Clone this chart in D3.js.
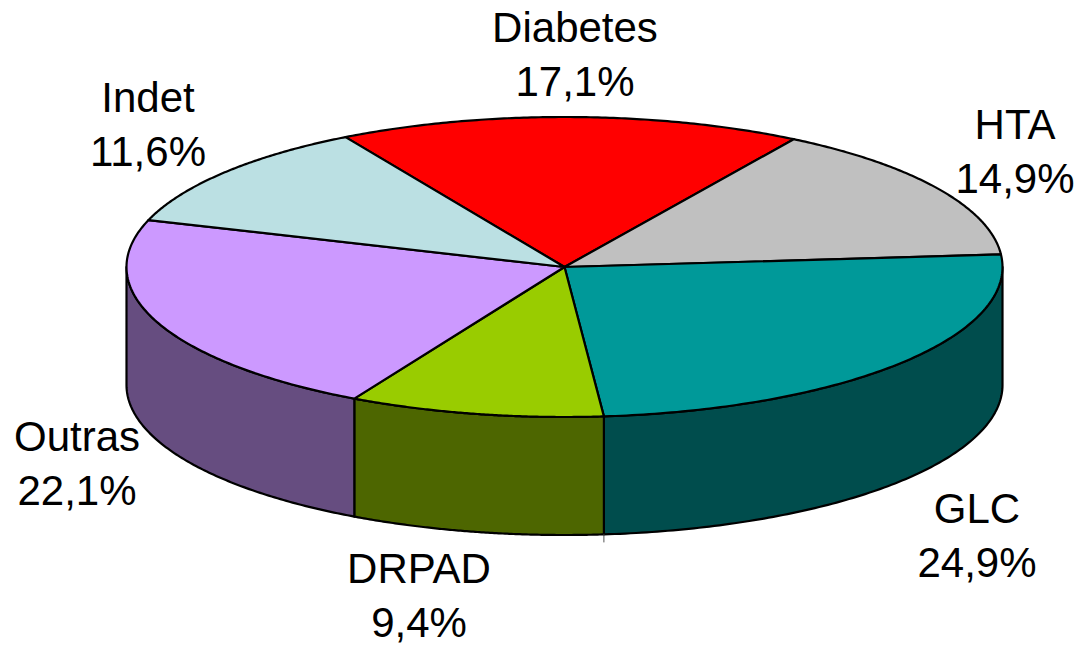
<!DOCTYPE html>
<html><head><meta charset="utf-8">
<script src="https://cdn.jsdelivr.net/npm/d3@7"></script>
<style>html,body{margin:0;padding:0;background:#fff}svg{display:block}text{font-family:"Liberation Sans",Arial,sans-serif;font-size:42px;fill:#000}</style>
</head><body><div id="c"></div>
<script>
const categories=["Diabetes","HTA","GLC","DRPAD","Outras","Indet"];
const values=[17.1,14.9,24.9,9.4,22.1,11.6];
const labels=["17,1%","14,9%","24,9%","9,4%","22,1%","11,6%"];
const topColors=["#FF0000","#C0C0C0","#009999","#99CC00","#CC99FF","#BBE0E3"];
const sideColors=["#800000","#606060","#004D4D","#4D6600","#664D80","#5E7072"];
const labelX=[575,1015,977,419,77,148];
const labelY=[42,139,523,583,451,112];

const W=1080,H=646,cx=564.5,cy=267,rx=438,ry=150,depth=118;
const svg=d3.select("#c").append("svg").attr("width",W).attr("height",H);
const arcs=d3.pie().sort(null).value(d=>d).startAngle(-30*Math.PI/180).endAngle(330*Math.PI/180)(values);
const px=d3.scaleLinear().domain([-1,1]).range([cx-rx,cx+rx]);
const py=d3.scaleLinear().domain([-1,1]).range([cy-ry,cy+ry]);
const P=t=>[px(Math.sin(t)),py(-Math.cos(t))];
const line=d3.line();
const samples=(a,b)=>d3.range(0,121).map(i=>a+(b-a)*i/120);
function style(s,c){s.attr("fill",c).attr("stroke","#000").attr("stroke-width",2.2).attr("stroke-linejoin","round");}

// side walls: visible front half only
arcs.forEach((d,i)=>{
  const a=Math.max(d.startAngle,Math.PI/2),b=Math.min(d.endAngle,3*Math.PI/2);
  if(b<=a)return;
  const front=samples(a,b).map(P);
  const back=front.map(p=>[p[0],p[1]+depth]).reverse();
  svg.append("path").attr("d",line(front.concat(back))+"Z").call(style,sideColors[i]);
});
// small overshoot of the wall seam below the GLC/DRPAD edge
const seam=P(arcs[2].endAngle);
svg.append("path").attr("d",line([[seam[0],seam[1]+depth],[seam[0],seam[1]+depth+8]])).attr("stroke","#555").attr("stroke-width",1).attr("fill","none");
// top slices
arcs.forEach((d,i)=>{
  const pts=[[cx,cy]].concat(samples(d.startAngle,d.endAngle).map(P));
  svg.append("path").attr("d",line(pts)+"Z").call(style,topColors[i]);
});
// labels
categories.forEach((c,i)=>{
  svg.append("text").attr("x",labelX[i]).attr("y",labelY[i]).attr("text-anchor","middle").text(c);
  svg.append("text").attr("x",labelX[i]).attr("y",labelY[i]+54).attr("text-anchor","middle").text(labels[i]);
});
</script></body></html>
